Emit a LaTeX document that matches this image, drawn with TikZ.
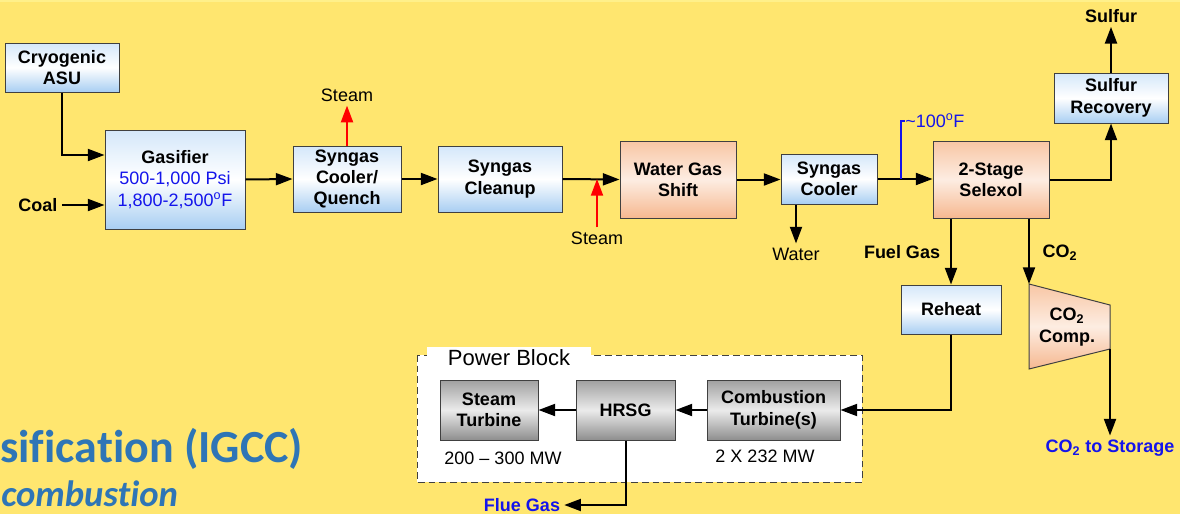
\documentclass[tikz,border=0pt]{standalone}
\usepackage{fontspec}
\setmainfont{Liberation Sans}
\newfontfamily\carlito[Ligatures=NoCommon]{Carlito}
\usetikzlibrary{arrows.meta,calc}
\definecolor{bg}{HTML}{FFE66F}
\definecolor{bgtop}{HTML}{FFF08A}
\definecolor{bltop}{HTML}{D4E7FA}
\definecolor{blbot}{HTML}{A8CEF2}
\definecolor{ortop}{HTML}{F8C6A4}
\definecolor{ormid}{HTML}{FDEDE2}
\definecolor{orbot}{HTML}{F6B890}
\definecolor{grtop}{HTML}{A0A0A0}
\definecolor{grmid}{HTML}{EBEBEB}
\definecolor{grbot}{HTML}{8E8E8E}
\definecolor{tblue}{RGB}{20,20,235}
\definecolor{ttl}{HTML}{2E75B6}
\definecolor{stm}{RGB}{255,0,0}
\begin{document}
\begin{tikzpicture}[x=0.75pt,y=-0.75pt,
  boxtext/.style={inner sep=2pt, align=center, font=\bfseries\fontsize{13.5}{16}\selectfont},
  box/.style={boxtext, draw=black!75, line width=0.75pt},
  bluebox/.style={box, top color=bltop, bottom color=blbot, middle color=white},
  orbox/.style={box, top color=ortop, bottom color=orbot, middle color=ormid},
  grbox/.style={box, top color=grtop, bottom color=grbot, middle color=grmid},
  lab/.style={inner sep=3pt, font=\fontsize{13.5}{16}\selectfont},
  blab/.style={inner sep=3pt, font=\bfseries\fontsize{13.5}{16}\selectfont},
  arr/.style={line width=1.5pt, -{Triangle[length=12.5pt,width=9pt]}},
  redarr/.style={line width=1.5pt, draw=stm, -{Triangle[length=12.5pt,width=9pt]}}
]
\useasboundingbox (0,0) rectangle (1180,514);
\fill[bg] (0,0) rectangle (1180,514);
\fill[bgtop] (0,0) rectangle (1180,1.5);
\clip (0,0) rectangle (1180,514);

% title fragments
\node[anchor=base west, inner sep=0, text=ttl, font=\carlito\bfseries\fontsize{34.5}{40}\selectfont] (t1) at (0,462) {sification (IGCC)};
\node[anchor=base west, inner sep=0, text=ttl, font=\carlito\bfseries\itshape\fontsize{27.5}{32}\selectfont] (t2) at (1,506) {combustion};

% power block
\draw[fill=white, draw=black!75, line width=0.75pt, dash pattern=on 5pt off 3pt] (417,355) rectangle (862,482);
\fill[white] (427,347) rectangle (591,358);
\node[inner sep=0, font=\fontsize{16.5}{19}\selectfont] (pb) at (509,358) {Power Block};

% boxes
\node[bluebox, minimum width=85.5pt, minimum height=36.75pt] (asu) at (62,67.5) {Cryogenic\\ASU};
\node[bluebox, minimum width=105pt, minimum height=74.25pt] (gas) at (175,179.5) {Gasifier\\\mdseries\textcolor{tblue}{500-1,000 Psi}\\\mdseries\textcolor{tblue}{1,800-2,500\textsuperscript{o}F}};
\node[bluebox, minimum width=81pt, minimum height=49.5pt] (cq) at (347,179) {Syngas\\Cooler/\\Quench};
\node[bluebox, minimum width=93pt, minimum height=49.5pt] (cl) at (500,179) {Syngas\\Cleanup};
\node[orbox, minimum width=87pt, minimum height=57.75pt] (wgs) at (678,179.5) {Water Gas\\Shift};
\node[bluebox, minimum width=72pt, minimum height=37.5pt] (sc) at (829,179) {Syngas\\Cooler};
\node[orbox, minimum width=87pt, minimum height=57.75pt] (sel) at (991,179.5) {2-Stage\\Selexol};
\node[bluebox, minimum width=85.5pt, minimum height=37.5pt] (sr) at (1111,98) {Sulfur\\Recovery};
\node[bluebox, minimum width=75pt, minimum height=36.75pt] (rh) at (951,309.5) {Reheat};
\node[grbox, minimum width=73.5pt, minimum height=45pt] (st) at (489,410) {Steam\\Turbine};
\node[grbox, minimum width=74.25pt, minimum height=45pt] (hrsg) at (625.5,410) {HRSG};
\node[grbox, minimum width=99.75pt, minimum height=45pt] (ct) at (773.5,410) {Combustion\\Turbine(s)};

% CO2 compressor
\coordinate (cA) at (1029,284);
\coordinate (cB) at (1110,305);
\coordinate (cC) at (1110,349);
\coordinate (cD) at (1029,369);
\shade[top color=ortop, bottom color=orbot, middle color=ormid] (cA) -- (cB) -- (cC) -- (cD) -- cycle;
\draw[draw=black!75, line width=0.75pt] (cA) -- (cB) -- (cC) -- (cD) -- cycle;
\node[boxtext] (comp) at (1067,327) {CO\textsubscript{2}\\Comp.};

% labels
\node[blab] (coal) at (38,205) {Coal};
\node[lab] (steam1) at (347,95) {Steam};
\node[lab] (steam2) at (597,238) {Steam};
\node[lab] (water) at (796,254) {Water};
\node[lab, text=tblue, anchor=west, inner sep=0] (temp) at (905,121) {\textasciitilde 100\textsuperscript{o}F};
\node[blab] (sulfur) at (1111,16) {Sulfur};
\node[blab] (fuel) at (902,252) {Fuel Gas};
\node[blab] (co2) at (1060,253) {CO\textsubscript{2}};
\node[blab, text=tblue] (store) at (1110,448) {CO\textsubscript{2} to Storage};
\node[lab] (mw1) at (503,458) {200 -- 300 MW};
\node[lab] (mw2) at (765,456) {2 X 232 MW};
\node[blab, text=tblue] (flue) at (522,505) {Flue Gas};

% connectors
\draw[arr] (asu.south) |- ($(gas.west)+(0,-24.5)$);
\draw[arr] (coal.east) -- (gas.west |- coal.east);
\draw[arr] (gas.east) -- (cq.west);
\draw[redarr] (cq.north) -- (steam1.south);
\draw[arr] (cq.east) -- (cl.west);
\draw[arr] (cl.east) -- (wgs.west);
\draw[redarr] (steam2.north) -- (steam2.north |- cl.east);
\draw[arr] (wgs.east) -- (wgs.east -| sc.west);
\draw[arr] (water.north |- sc.south) -- (water.north);
\draw[arr] (sc.east) -- (sc.east -| sel.west);
\draw[tblue, line width=1.2pt] (temp.west |- sc.east) ++(-4,0) coordinate (tb) -- (tb |- temp.west) -- (temp.west);
\draw[arr] (sel.east) -| (sr.south);
\draw[arr] (sr.north) -- (sulfur.south);
\draw[arr] (sel.south -| rh.north) -- (rh.north);
\draw[arr] (sel.south -| cA) -- (cA);
\draw[arr] (cC) -- (cC |- store.north);
\draw[arr] (rh.south) |- (ct.east);
\draw[arr] (ct.west) -- (hrsg.east);
\draw[arr] (hrsg.west) -- (st.east);
\draw[arr] (hrsg.south) |- (flue.east);
\end{tikzpicture}
\end{document}
